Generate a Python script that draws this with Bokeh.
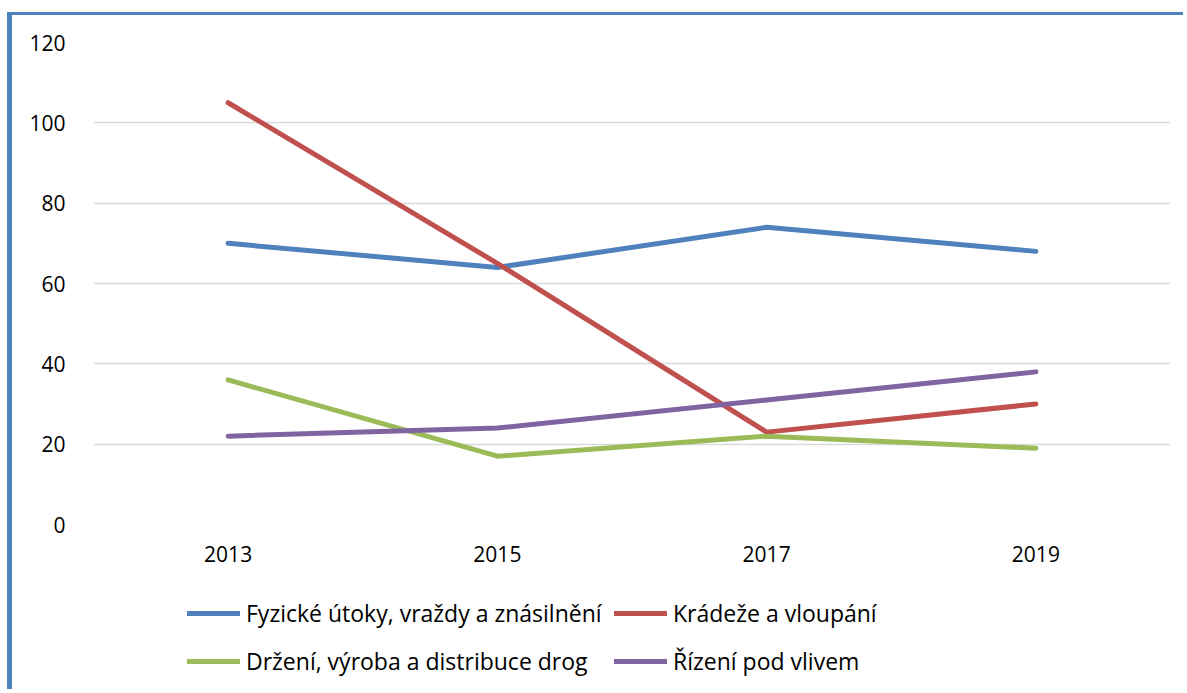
from bokeh.plotting import figure
from bokeh.models import Legend, LegendItem, FactorRange, Range1d
from bokeh.layouts import column
from bokeh.embed import file_html
from bokeh.resources import INLINE

years = ["2013", "2015", "2017", "2019"]
fyzicke = [70, 64, 74, 68]
kradeze = [105, 65, 23, 30]
drzeni = [36, 17, 22, 19]
rizeni = [22, 24, 31, 38]

names = ["Fyzické útoky, vraždy a znásilnění", "Krádeže a vloupání",
         "Držení, výroba a distribuce drog", "Řízení pod vlivem"]
colors = ["#4f81bd", "#c0504d", "#9bbb59", "#8064a2"]
series = [fyzicke, kradeze, drzeni, rizeni]

FONT = "Open Sans"
FS = "21px"
LFS = "23px"

p = figure(width=1171, height=575, x_range=FactorRange(*years, range_padding=0),
           y_range=Range1d(0, 120), output_backend="svg", toolbar_location=None,
           min_border_left=81, min_border_right=13, min_border_top=27, min_border_bottom=66)
p.outline_line_color = None
p.background_fill_color = "white"
p.border_fill_color = "white"

for vals, c in zip(series, colors):
    p.line(years, vals, line_color=c, line_width=5, line_cap="round", line_join="round")

p.xgrid.grid_line_color = None
p.ygrid.grid_line_color = "#d9d9d9"
p.ygrid.grid_line_width = 1.5
p.yaxis.ticker = [0, 20, 40, 60, 80, 100, 120]

for ax in (p.xaxis[0], p.yaxis[0]):
    ax.axis_line_color = None
    ax.major_tick_line_color = None
    ax.minor_tick_line_color = None
    ax.major_tick_in = 0
    ax.major_tick_out = 0
    ax.major_label_text_font = FONT
    ax.major_label_text_font_size = FS
    ax.major_label_text_color = "#000000"
p.yaxis.major_label_standoff = 28
p.xaxis.major_label_standoff = 21

# legend strip (separate figure below the chart; frames are aligned by the column)
lp = figure(width=1171, height=99, x_range=Range1d(0, 1), y_range=Range1d(0, 1),
            output_backend="svg", toolbar_location=None, x_axis_type=None, y_axis_type=None,
            min_border_left=0, min_border_right=0, min_border_top=0, min_border_bottom=0)
lp.outline_line_color = None
lp.xgrid.visible = False
lp.ygrid.visible = False
lp.border_fill_color = "white"
lr = [lp.line([-10, -9], [-10, -9], line_color=c, line_width=5, line_cap="round") for c in colors]

def mk_legend(idx, vy):
    return Legend(items=[LegendItem(label=names[i], renderers=[lr[i]]) for i in idx],
                  orientation="horizontal", location=(94, vy),
                  padding=0, margin=0, spacing=6, label_standoff=6,
                  glyph_width=53, glyph_height=20, label_height=20, label_width=362,
                  border_line_color=None, background_fill_alpha=0,
                  label_text_font=FONT, label_text_font_size=LFS, label_text_color="#000000")

lp.add_layout(mk_legend([0, 1], 60), "center")
lp.add_layout(mk_legend([2, 3], 12), "center")

layout = column(p, lp, spacing=0)
layout.styles = {"border-left": "5px solid #4f81bd", "border-top": "3px solid #4f81bd",
                 "margin-top": "12px", "margin-left": "7px"}

open("out.html", "w").write(file_html(layout, INLINE))
